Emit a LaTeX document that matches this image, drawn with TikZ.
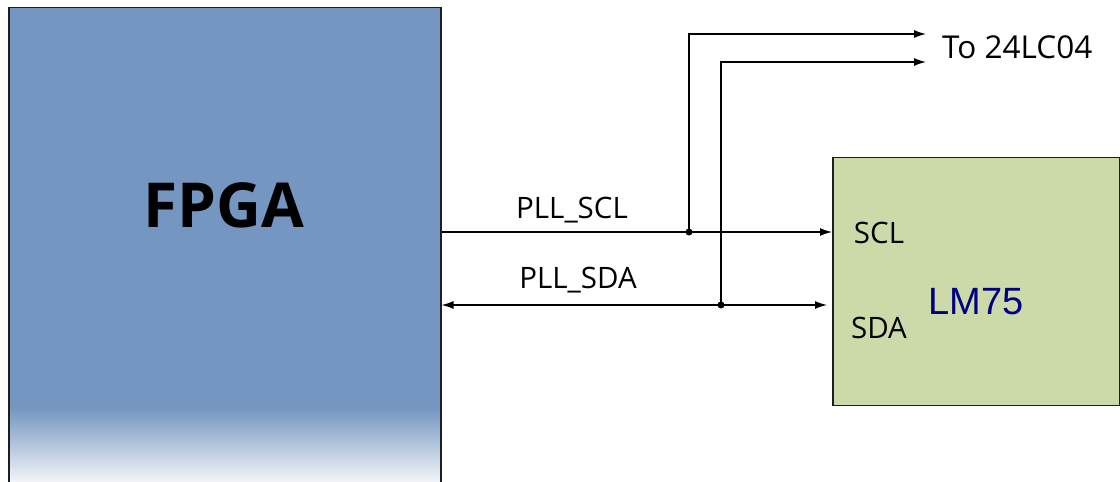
\documentclass[tikz,border=0pt]{standalone}
\usepackage{fontspec}
\setmainfont{Open Sans}
\newfontfamily\arialf{Liberation Sans}
\usetikzlibrary{arrows.meta}
\definecolor{fpgablue}{RGB}{116,150,192}
\definecolor{lmgreen}{RGB}{204,218,170}
\definecolor{navyt}{RGB}{0,0,128}
\definecolor{edgec}{RGB}{30,30,30}
\begin{document}
\begin{tikzpicture}[x=1pt,y=1pt,
  wire/.style={line width=1.3pt, black},
  tipr/.style={-{Latex[length=12pt,width=8pt]}},
  tipb/.style={{Latex[length=12pt,width=8pt]}-{Latex[length=12pt,width=8pt]}},
  dotc/.style={circle, fill=black, inner sep=0pt, minimum size=7pt},
  lbl/.style={font=\fontsize{29.5}{33}\selectfont, inner sep=0pt},
  box/.style={draw=edgec, line width=1.5pt, inner sep=0pt}]
\useasboundingbox (0,0) rectangle (1120,482);
\clip (0,0) rectangle (1120,482);
% FPGA fill with gradient at bottom
\fill[fpgablue] (8,475) rectangle (440,74);
\shade[top color=fpgablue, bottom color=fpgablue!8] (8,74) rectangle (440,-1);
\node[box, anchor=north west, minimum width=432pt, minimum height=490pt] (fpga) at (8,475) {};
\node[font=\fontsize{62}{70}\selectfont\bfseries, inner sep=0pt] (fpgat) at (224,277) {FPGA};
% LM75
\node[box, fill=lmgreen, anchor=north west, minimum width=287pt, minimum height=248pt] (lm) at (832,325) {};
\node[lbl] (scl) at (879,249) {SCL};
\node[lbl] (sda) at (879,154) {SDA};
\node[font=\arialf\fontsize{38}{42}\selectfont, text=navyt, inner sep=0pt] (lmt) at (976,180) {LM75};
% junctions
\node[dotc] (j1) at (689,250) {};
\node[dotc] (j2) at (721,177) {};
\coordinate (s1) at (fpga.east |- j1);
\coordinate (s2) at (fpga.east |- j2);
\coordinate (e1) at (lm.west |- j1);
\coordinate (e2) at ([xshift=-5pt]lm.west |- j2);
\coordinate (c1) at (689,448);
\coordinate (c2) at (721,420);
\coordinate (t1) at (926,448);
\coordinate (t2) at (926,420);
\draw[wire, tipr] (s1) -- (e1);
\draw[wire, tipb] (s2) -- (e2);
\draw[wire, tipr] (j1.center) -- (c1) -- (t1);
\draw[wire, tipr] (j2.center) -- (c2) -- (t2);
\node[lbl] (pscl) at (572,272) {PLL\_SCL};
\node[lbl] (psda) at (578,202) {PLL\_SDA};
\node[lbl, font=\fontsize{31.5}{35}\selectfont, anchor=west] (to) at (942,435) {To 24LC04};
\end{tikzpicture}
\end{document}
